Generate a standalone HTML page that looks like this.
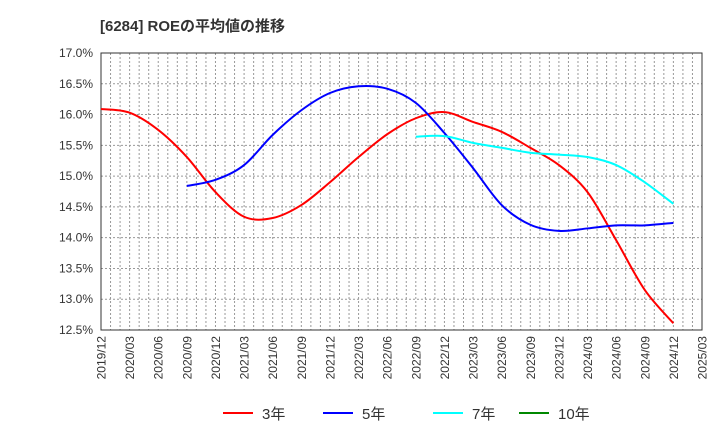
<!DOCTYPE html>
<html><head><meta charset="utf-8"><style>
body{margin:0;background:#fff;font-family:"Liberation Sans","Noto Sans CJK JP",sans-serif}
</style></head><body>
<svg width="720" height="440" xmlns="http://www.w3.org/2000/svg">
<text x="100" y="31" font-size="15" font-weight="bold" fill="#333" font-family="Liberation Sans,Noto Sans CJK JP,sans-serif">[6284]  ROEの平均値の推移</text>
<g id="grid"></g><g id="axes"></g><g id="series"></g><g id="legend"></g>
</svg>
<script>
const xTickLabels=["2019/12","2020/03","2020/06","2020/09","2020/12","2021/03","2021/06","2021/09","2021/12","2022/03","2022/06","2022/09","2022/12","2023/03","2023/06","2023/09","2023/12","2024/03","2024/06","2024/09","2024/12","2025/03"];
const yTicks=[12.5,13,13.5,14,14.5,15,15.5,16,16.5,17];
const s3=[16.09,16.03,15.75,15.31,14.74,14.34,14.32,14.53,14.90,15.31,15.68,15.94,16.04,15.88,15.72,15.46,15.18,14.74,13.96,13.15,12.61];
const s5=[null,null,null,14.84,14.94,15.18,15.67,16.07,16.35,16.46,16.42,16.19,15.70,15.13,14.53,14.21,14.11,14.15,14.20,14.20,14.24];
const s7=[null,null,null,null,null,null,null,null,null,null,null,15.64,15.65,15.54,15.46,15.38,15.35,15.31,15.18,14.90,14.55];
const s10=[];
const L=101,R=702,T=53,B=330,NM=63;
const ns="http://www.w3.org/2000/svg";
const xm=m=>L+(R-L)*m/NM, yv=v=>T+(17-v)/4.5*(B-T);
function mk(tag,attrs,parent){const e=document.createElementNS(ns,tag);for(const k in attrs)e.setAttribute(k,attrs[k]);document.getElementById(parent).appendChild(e);return e;}
for(let m=1;m<NM;m++){const l=mk('line',{x1:xm(m),x2:xm(m),y1:T,y2:B,stroke:'#999','stroke-dasharray':'2,2','stroke-width':1},'grid');

}
yTicks.forEach(v=>{const l=mk('line',{x1:L,x2:R,y1:yv(v),y2:yv(v),stroke:'#999','stroke-dasharray':'2,2'},'grid');


const t=mk('text',{x:L-8,y:yv(v)+4,'text-anchor':'end','font-size':12,fill:'#333'},'axes');t.textContent=v.toFixed(1)+'%';

});
const fr=mk('rect',{x:L,y:T,width:R-L,height:B-T,fill:'none',stroke:'#333','stroke-width':1},'axes');


xTickLabels.forEach((s,i)=>{const x=xm(i*3);const t=mk('text',{x:0,y:0,transform:`translate(${x+4.5},${B+6}) rotate(-90)`,'text-anchor':'end','font-size':12,fill:'#333'},'axes');t.textContent=s;

});
function path(arr,color,name){const p=[];arr.forEach((v,i)=>{if(v!=null)p.push([xm(i*3),yv(v)]);});if(p.length<2)return;
let d=`M${p[0][0]},${p[0][1]}`;for(let i=0;i<p.length-1;i++){const p0=p[i-1]||p[i],p1=p[i],p2=p[i+1],p3=p[i+2]||p2;
d+=` C${p1[0]+(p2[0]-p0[0])/6},${p1[1]+(p2[1]-p0[1])/6} ${p2[0]-(p3[0]-p1[0])/6},${p2[1]-(p3[1]-p1[1])/6} ${p2[0]},${p2[1]}`;}
const e=mk('path',{d:d,fill:'none',stroke:color,'stroke-width':2},'series');

}
path(s3,'#f00','series-3yr');path(s5,'#00f','series-5yr');path(s7,'#0ff','series-7yr');path(s10,'#080','series-10yr');
[['3年','#f00',223],['5年','#00f',323],['7年','#0ff',433],['10年','#080',519]].forEach(([n,c,x])=>{
const l=mk('line',{x1:x,x2:x+30,y1:413,y2:413,stroke:c,'stroke-width':2},'legend');


const t=mk('text',{x:x+39,y:419,'font-size':15,fill:'#333'},'legend');t.textContent=n;

});
</script>
</body></html>
